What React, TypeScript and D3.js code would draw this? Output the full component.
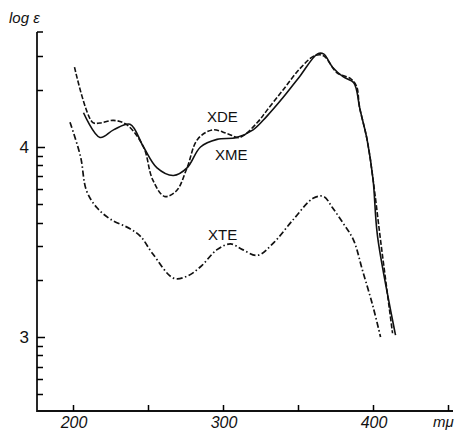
import React from "react";
import * as d3 from "d3";

// wavelength (mμ) and log ε
const xdeLambda = [201, 213, 218, 227, 236, 247, 253, 261, 269, 276, 283, 293, 303, 311, 323, 329, 340, 351, 361, 367, 376, 385, 389, 391, 396, 400, 405, 413];
const xdeLog = [4.42, 4.13, 4.126, 4.14, 4.116, 4.0, 3.83, 3.74, 3.77, 3.89, 4.04, 4.09, 4.07, 4.05, 4.13, 4.19, 4.30, 4.41, 4.48, 4.48, 4.39, 4.36, 4.32, 4.21, 4.04, 3.83, 3.51, 3.02];

const xmeLambda = [207, 218, 227, 238, 247, 256, 267, 276, 285, 296, 309, 320, 329, 340, 351, 363, 367, 373, 380, 387, 389, 391, 396, 400, 403, 415];
const xmeLog = [4.18, 4.05, 4.09, 4.12, 4.0, 3.89, 3.85, 3.89, 4.0, 4.04, 4.05, 4.09, 4.16, 4.26, 4.37, 4.49, 4.49, 4.42, 4.37, 4.34, 4.30, 4.21, 4.04, 3.83, 3.53, 3.01];

const xteLambda = [198, 205, 209, 216, 225, 238, 245, 253, 267, 276, 285, 296, 305, 313, 323, 333, 347, 360, 367, 373, 380, 387, 393, 400, 405];
const xteLog = [4.13, 3.95, 3.77, 3.68, 3.62, 3.57, 3.53, 3.44, 3.31, 3.32, 3.37, 3.46, 3.49, 3.46, 3.43, 3.49, 3.62, 3.73, 3.74, 3.68, 3.60, 3.51, 3.35, 3.16, 3.0];

const xTicks = [200, 250, 300, 350, 400, 450];
const xLabels = [200, 300, 400];
const yLabels = [3, 4];
const epsTicks = [500, 600, 700, 800, 900, 1000, 2000, 3000, 4000, 5000, 6000, 7000, 8000, 9000, 10000, 20000, 30000];

const W = 461, H = 430;
const left = 37, right = 453, top = 32, bottom = 411;

const x = d3.scaleLinear().domain([176, 453.3]).range([left, right]);
const y = d3.scaleLinear().domain([2.611, 4.605]).range([bottom, top]);

const line = d3
  .line<[number, number]>()
  .x((d) => x(d[0]))
  .y((d) => y(d[1]))
  .curve(d3.curveCatmullRom.alpha(0.5));

const zip = (a: number[], b: number[]) => a.map((v, i) => [v, b[i]] as [number, number]);

// tick marks as one path so they render crisply
const yTickPath =
  `M${left},${top}h6` +
  epsTicks
    .map((e) => {
      const yy = Math.round(y(Math.log10(e))) + 0.5;
      const len = e === 1000 || e === 10000 ? 8 : 6;
      return `M${left},${yy}h${len}`;
    })
    .join("");
const xTickPath = xTicks
  .map((t) => `M${Math.round(x(t)) + 0.5},${bottom}v-6`)
  .join("");

export default function App() {
  const font = "'Liberation Sans', Arial, sans-serif";
  return (
    <div style={{ position: "absolute", left: 0, top: 0 }}>
      <svg width={W} height={H} style={{ display: "block", background: "#fff" }}>
        {/* axes */}
        <path d={`M${left},${top}V${bottom}H${right}`} fill="none" stroke="#111" strokeWidth={1.8} />
        <path d={yTickPath} fill="none" stroke="#000" strokeWidth={1.5} />
        <path d={xTickPath} fill="none" stroke="#000" strokeWidth={1.5} />
        {yLabels.map((t) => (
          <text key={t} x={left - 8} y={y(t) + 6} textAnchor="end" fontFamily={font} fontSize={17} fill="#111">{t}</text>
        ))}
        {xLabels.map((t) => (
          <text key={t} x={x(t) + 1} y={bottom + 17} textAnchor="middle" fontFamily={font} fontSize={16} fontStyle="italic" fill="#111">{t}</text>
        ))}
        <text x={9} y={23} fontFamily={font} fontSize={15} fontStyle="italic" fill="#111">log ε</text>
        <text x={433} y={427} fontFamily={font} fontSize={15} fontStyle="italic" fill="#111">mμ</text>

        {/* curves */}
        <path d={line(zip(xmeLambda, xmeLog)) || ""} fill="none" stroke="#111" strokeWidth={1.6} />
        <path d={line(zip(xdeLambda, xdeLog)) || ""} fill="none" stroke="#111" strokeWidth={1.6} strokeDasharray="5,2" />
        <path d={line(zip(xteLambda, xteLog)) || ""} fill="none" stroke="#111" strokeWidth={1.7} strokeDasharray="6,2.5,1.5,2.5" />

        {/* curve labels */}
        <text x={207} y={122} fontFamily={font} fontSize={15} fill="#111">XDE</text>
        <text x={215} y={160} fontFamily={font} fontSize={15} fill="#111">XME</text>
        <text x={208} y={240} fontFamily={font} fontSize={15} fill="#111">XTE</text>
      </svg>
    </div>
  );
}
